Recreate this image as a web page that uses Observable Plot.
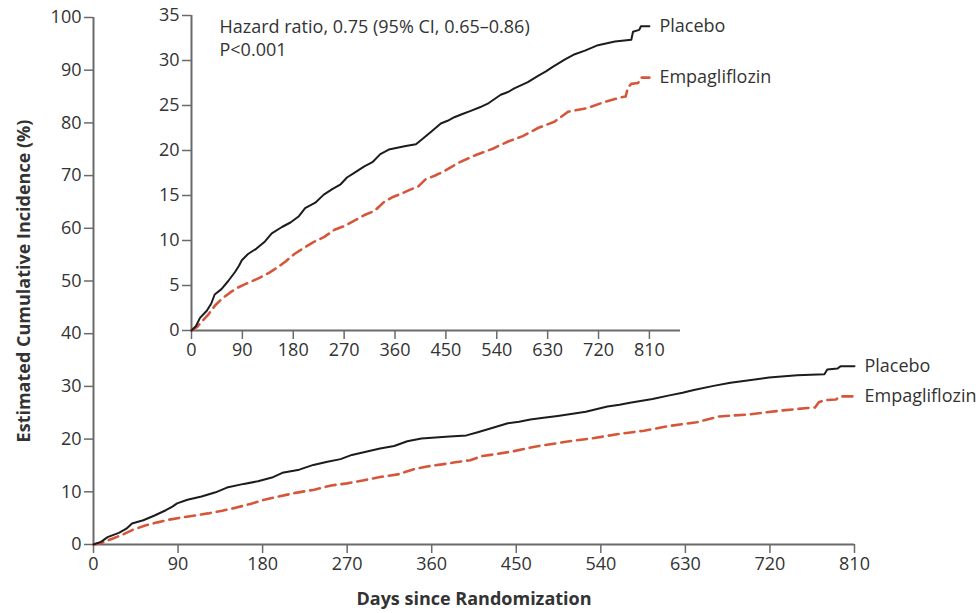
<!DOCTYPE html>
<html>
<head>
<meta charset="utf-8">
<script src="https://cdn.jsdelivr.net/npm/d3@7"></script>
<script src="https://cdn.jsdelivr.net/npm/@observablehq/plot@0.6"></script>
<style>
  html, body { margin: 0; padding: 0; background: #fff; }
  #wrap { position: relative; width: 976px; height: 613px; overflow: hidden; }
  #wrap svg { position: absolute; left: 0; top: 0; }
</style>
</head>
<body>
<div id="wrap"></div>
<script>
// ---- data ----
const placeboDays = [0, 8, 15, 27, 35, 41, 53, 65, 77, 84, 89, 100, 115, 130, 142, 160, 175, 190, 201, 219, 234, 249, 263, 275, 290, 305, 320, 334, 349, 364, 379, 397, 409, 426, 441, 453, 465, 477, 494, 510, 524, 547, 560, 571, 595, 613, 627, 639, 660, 678, 696, 719, 749, 778, 781, 792, 795, 810];
const placeboPct  = [0, 0.5, 1.4, 2.2, 3.0, 4.0, 4.6, 5.5, 6.5, 7.2, 7.8, 8.5, 9.1, 9.9, 10.8, 11.5, 12.0, 12.7, 13.6, 14.2, 15.1, 15.7, 16.2, 17.0, 17.6, 18.2, 18.7, 19.6, 20.1, 20.3, 20.5, 20.7, 21.3, 22.2, 23.0, 23.3, 23.7, 24.0, 24.4, 24.8, 25.2, 26.2, 26.5, 26.9, 27.6, 28.3, 28.8, 29.3, 30.1, 30.7, 31.1, 31.7, 32.1, 32.3, 33.2, 33.4, 33.8, 33.8];
const empaDays = [0, 10, 20, 30, 42, 55, 68, 80, 93, 108, 122, 137, 152, 167, 182, 197, 215, 235, 253, 270, 288, 305, 324, 341, 355, 371, 385, 401, 414, 430, 447, 471, 503, 533, 560, 586, 613, 642, 666, 699, 731, 760, 768, 772, 778, 790, 795, 810];
const empaPct  = [0, 0.4, 1.1, 1.8, 2.8, 3.6, 4.2, 4.7, 5.1, 5.5, 5.9, 6.4, 7.0, 7.7, 8.5, 9.1, 9.8, 10.4, 11.2, 11.6, 12.2, 12.8, 13.3, 14.3, 14.8, 15.2, 15.6, 16.0, 16.8, 17.2, 17.7, 18.6, 19.5, 20.2, 21.0, 21.6, 22.5, 23.2, 24.3, 24.7, 25.4, 25.9, 26.0, 27.0, 27.4, 27.5, 28.1, 28.1];
const groupNames = ["Placebo", "Empagliflozin"];
const xTicks = [0, 90, 180, 270, 360, 450, 540, 630, 720, 810];
const yTicksMain = [0, 10, 20, 30, 40, 50, 60, 70, 80, 90, 100];
const yTicksInset = [0, 5, 10, 15, 20, 25, 30, 35];
const hazardLines = ["Hazard ratio, 0.75 (95% CI, 0.65\u20130.86)", "P<0.001"];
const xTitle = "Days since Randomization";
const yTitle = "Estimated Cumulative Incidence (%)";

// ---- build tables ----
const placebo = placeboDays.map((d, i) => ({day: d, pct: placeboPct[i], group: groupNames[0]}));
const empa = empaDays.map((d, i) => ({day: d, pct: empaPct[i], group: groupNames[1]}));
const ends = [placebo[placebo.length - 1], empa[empa.length - 1]];

const FONT = "'Open Sans', sans-serif";
const AXIS = "#6a6a6a";
const TXT = "#333";
const BLACK = "#1c1c1c";
const RED = "#d5573b";

function curveMarks() {
  return [
    Plot.line(empa, {x: "day", y: "pct", curve: "linear", stroke: RED, strokeWidth: 2.6, strokeDasharray: "10,6"}),
    Plot.line(placebo, {x: "day", y: "pct", curve: "linear", stroke: BLACK, strokeWidth: 2}),
    Plot.text(ends, {x: "day", y: "pct", text: "group", textAnchor: "start", dx: 10, fill: TXT})
  ];
}

function axisMarks(yTicks) {
  return [
    Plot.axisX({ticks: xTicks, tickSize: 9, tickPadding: 4, stroke: AXIS, strokeWidth: 1.5, fill: TXT, label: null}),
    Plot.axisY({ticks: yTicks, tickSize: 9, tickPadding: 3, stroke: AXIS, strokeWidth: 1.5, fill: TXT, label: null}),
    Plot.ruleX([0], {stroke: AXIS, strokeWidth: 2}),
    Plot.ruleY([0], {stroke: AXIS, strokeWidth: 2})
  ];
}

const main = Plot.plot({
  width: 976, height: 613,
  marginLeft: 93, marginRight: 122, marginTop: 17, marginBottom: 69,
  style: {fontFamily: FONT, fontSize: "18px", color: TXT, background: "transparent"},
  x: {domain: [0, 810], label: null},
  y: {domain: [0, 100], label: null},
  marks: [
    ...axisMarks(yTicksMain),
    ...curveMarks(),
    Plot.text([xTitle], {text: d => d, frameAnchor: "bottom", dy: 55, lineAnchor: "middle", textAnchor: "middle", fontWeight: "bold", fontSize: 18, fill: TXT}),
    Plot.text([yTitle], {text: d => d, frameAnchor: "left", dx: -69, rotate: -90, lineAnchor: "middle", textAnchor: "middle", fontWeight: "bold", fontSize: 18, fill: TXT})
  ]
});

const inset = Plot.plot({
  width: 790, height: 365,
  marginLeft: 191, marginRight: 110, marginTop: 15, marginBottom: 35,
  style: {fontFamily: FONT, fontSize: "18px", color: TXT, background: "transparent"},
  x: {domain: [0, 865], label: null},
  y: {domain: [0, 35], label: null},
  marks: [
    ...axisMarks(yTicksInset),
    ...curveMarks(),
    Plot.text([hazardLines[0]], {text: d => d, frameAnchor: "top-left", dx: 28, dy: 12, lineAnchor: "middle", textAnchor: "start", fill: TXT}),
    Plot.text([hazardLines[1]], {text: d => d, frameAnchor: "top-left", dx: 28, dy: 35, lineAnchor: "middle", textAnchor: "start", fill: TXT})
  ]
});

const wrap = document.getElementById("wrap");
wrap.appendChild(main);
wrap.appendChild(inset);
</script>
</body>
</html>
